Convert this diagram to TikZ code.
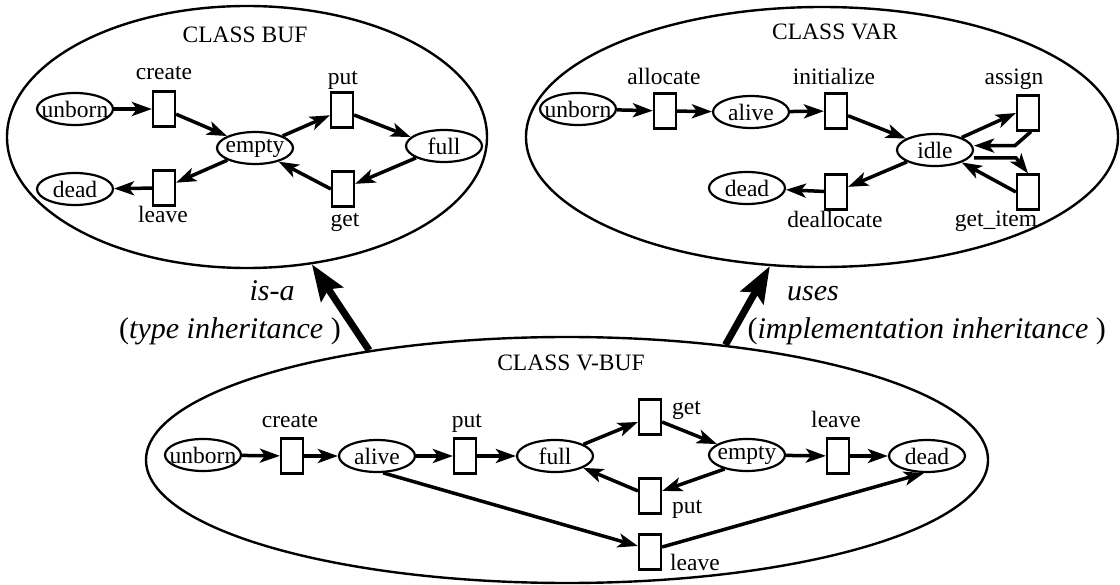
\documentclass[tikz,border=0pt]{standalone}
\usepackage{fontspec}
\setmainfont{Liberation Serif}
\usetikzlibrary{arrows.meta,shapes.geometric}
\tikzset{
 lab/.style={font=\fontsize{23.5}{26}\selectfont, inner sep=0pt},
 big/.style={font=\fontsize{30}{34}\selectfont, inner sep=0pt},
 classbox/.style={draw, ellipse, line width=2.4pt, inner sep=0pt},
 state/.style={draw, ellipse, line width=2.2pt, minimum width=76pt, minimum height=32pt, inner sep=0pt},
 trans/.style={draw, rectangle, line width=2.2pt, minimum width=22pt, minimum height=35pt, inner sep=0pt},
 conn/.style={line width=3.5pt, -{Stealth[length=20pt,width=14pt,inset=5pt]}},
 inh/.style={line width=7pt, -{Stealth[length=36pt,width=26pt,inset=6pt]}},
}
\newcommand\mystate[3]{\node[state] (#1) at (#2) {}; \node[lab] (#1-t) at (#1) {#3};}
\begin{document}
\begin{tikzpicture}[x=1pt,y=-1pt]
\useasboundingbox (0,0) rectangle (1120,585);
% class ellipses
\node[classbox, minimum width=480pt, minimum height=262pt] (bufE) at (247,137) {};
\node[classbox, minimum width=592pt, minimum height=260pt] (varE) at (822,137) {};
\node[classbox, minimum width=842pt, minimum height=246pt] (vbE) at (567,460) {};
\node[lab, anchor=base] (bufT) at (245,43) {CLASS BUF};
\node[lab, anchor=base] (varT) at (835,40) {CLASS VAR};
\node[lab, anchor=base] (vbT) at (571,371) {CLASS V-BUF};

% ---- BUF ----
\mystate{b-unborn}{75,109}{unborn}
\mystate{b-empty}{255,148}{empty}
\mystate{b-full}{444,146}{full}
\mystate{b-dead}{75,189}{dead}
\node[trans] (b-create) at (164,109) {};
\node[trans] (b-put) at (342,110) {};
\node[trans] (b-get) at (343,189) {};
\node[trans] (b-leave) at (164,188) {};
\node[lab, anchor=base] (b-create-l) at (164,80) {create};
\node[lab, anchor=base] (b-put-l) at (343,85) {put};
\node[lab, anchor=base] (b-leave-l) at (163,223) {leave};
\node[lab, anchor=base] (b-get-l) at (345,227) {get};
\draw[conn] (b-unborn) -- (b-create);
\draw[conn] (b-create) -- (b-empty);
\draw[conn] (b-empty) -- (b-put);
\draw[conn] ([yshift=-5pt]b-put.east) -- (b-full.165);
\draw[conn] (b-full) -- (b-get);
\draw[conn] (b-get.west) -- (b-empty.-30);
\draw[conn] (b-empty) -- (b-leave);
\draw[conn] (b-leave) -- (b-dead);

% ---- VAR ----
\mystate{v-unborn}{578,109}{unborn}
\mystate{v-alive}{751,112}{alive}
\mystate{v-idle}{935,150}{idle}
\mystate{v-dead}{747,188}{dead}
\node[trans] (v-alloc) at (665,111) {};
\node[trans] (v-init) at (836,111) {};
\node[trans] (v-assign) at (1028,113) {};
\node[trans] (v-getitem) at (1028,192) {};
\node[trans] (v-dealloc) at (836,192) {};
\node[lab, anchor=base] (v-alloc-l) at (664,85) {allocate};
\node[lab, anchor=base] (v-init-l) at (834,85) {initialize};
\node[lab, anchor=base] (v-assign-l) at (1014,85) {assign};
\node[lab, anchor=base] (v-dealloc-l) at (835,228) {deallocate};
\node[lab, anchor=base] (v-getitem-l) at (996,227) {get\_item};
\draw[conn] (v-unborn) -- (v-alloc);
\draw[conn] (v-alloc) -- (v-alive);
\draw[conn] (v-alive) -- (v-init);
\draw[conn] (v-init) -- (v-idle);
\draw[conn] (v-idle.25) -- (v-assign.west);
\draw[conn] ([xshift=3pt]v-assign.south) -- ++(-16,14) coordinate (ab) -- (ab -| v-idle.east);
\draw[conn] ([yshift=-8pt]v-idle.east) -- ++(42,0) -- (v-getitem.north);
\draw[conn] (v-getitem.west) -- (v-idle.-25);
\draw[conn] (v-idle) -- (v-dealloc);
\draw[conn] (v-dealloc) -- (v-dead);

% ---- V-BUF ----
\mystate{w-unborn}{203,455}{unborn}
\mystate{w-alive}{377,456}{alive}
\mystate{w-full}{555,456}{full}
\mystate{w-empty}{747,455}{empty}
\mystate{w-dead}{927,456}{dead}
\node[trans] (w-create) at (292,456) {};
\node[trans] (w-put) at (465,456) {};
\node[trans] (w-get) at (650,417) {};
\node[trans] (w-leave) at (838,456) {};
\node[trans] (w-putl) at (650,496) {};
\node[trans] (w-leavel) at (650,552) {};
\node[lab, anchor=base] (w-create-l) at (290,428) {create};
\node[lab, anchor=base] (w-put-l) at (467,428) {put};
\node[lab, anchor=base west] (w-get-l) at (672,415) {get};
\node[lab, anchor=base] (w-leave-l) at (836,428) {leave};
\node[lab, anchor=base west] (w-putl-l) at (672,513) {put};
\node[lab, anchor=base west] (w-leavel-l) at (670,570) {leave};
\draw[conn] (w-unborn) -- (w-create);
\draw[conn] (w-create) -- (w-alive);
\draw[conn] (w-alive) -- (w-put);
\draw[conn] (w-put) -- (w-full);
\draw[conn] (w-full) -- (w-get);
\draw[conn] ([yshift=-5pt]w-get.east) -- (w-empty.160);
\draw[conn] (w-empty.212) -- ([yshift=5pt]w-putl.east);
\draw[conn] (w-putl) -- (w-full);
\draw[conn] (w-empty) -- (w-leave);
\draw[conn] (w-leave) -- (w-dead);
\draw[conn] (w-alive.-70) -- ([yshift=6pt]w-leavel.west);
\draw[conn] ([yshift=5pt]w-leavel.east) -- (w-dead.-100);

% ---- inheritance ----
\draw[inh] (vbE.151.6) -- (bufE.-63);
\draw[inh] (vbE.36) -- (varE.248);
\node[big, anchor=base] (isa) at (272,301) {\textit{is-a}};
\node[big, anchor=base east] (isa2) at (341,339) {(\textit{type inheritance} )};
\node[big, anchor=base] (uses) at (813,301) {\textit{uses}};
\node[big, anchor=base east] (uses2) at (1106,339) {(\textit{implementation inheritance} )};
\end{tikzpicture}
\end{document}
